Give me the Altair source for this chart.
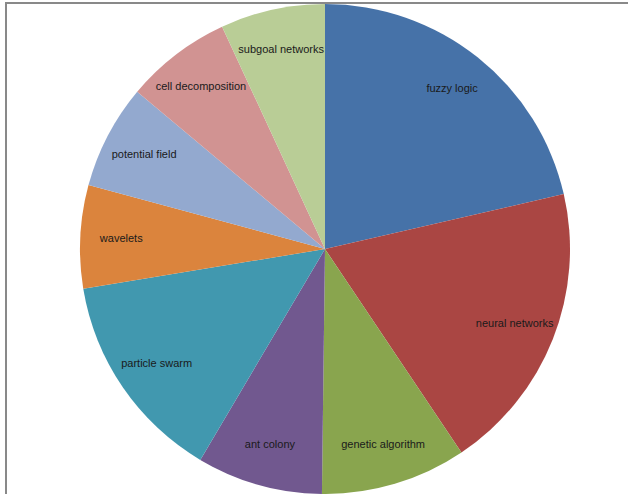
import altair as alt
import pandas as pd

categories = ["fuzzy logic", "neural networks", "genetic algorithm", "ant colony",
              "particle swarm", "wavelets", "potential field", "cell decomposition",
              "subgoal networks"]
values = [21.4, 19.2, 9.6, 8.3, 13.9, 6.8, 6.9, 7.0, 6.9]
colors = ["#4672A8", "#AA4643", "#89A54E", "#71588F", "#4198AF", "#DB843D",
          "#93A9CF", "#D19392", "#B9CD96"]

df = pd.DataFrame({"category": categories, "value": values,
                   "idx": list(range(len(categories)))})

CX, CY, R = 325, 249, 245

base = alt.Chart(df).encode(
    theta=alt.Theta("value:Q", stack=True),
    order=alt.Order("idx:Q", sort="ascending"),
)

pie = base.mark_arc(outerRadius=R).encode(
    x=alt.value(CX), y=alt.value(CY),
    color=alt.Color("category:N", scale=alt.Scale(domain=categories, range=colors),
                    legend=None),
)

labels = base.mark_text(radius=204, font="Liberation Sans", fontSize=11,
                        color="#1a1a1a").encode(
    x=alt.value(CX), y=alt.value(CY),
    text="category:N",
)

frame_df = pd.DataFrame({"a": [0]})
top_rule = alt.Chart(frame_df).mark_rule(color="#898989", strokeWidth=2).encode(
    x=alt.value(6), x2=alt.value(628), y=alt.value(3))
left_rule = alt.Chart(frame_df).mark_rule(color="#898989", strokeWidth=2).encode(
    x=alt.value(6), y=alt.value(2), y2=alt.value(494))

chart = alt.layer(pie, labels, top_rule, left_rule).properties(
    width=628, height=494, padding=0,
    autosize=alt.AutoSizeParams(type="none"),
).configure_view(stroke=None)

chart.save("out.html", embed_options={"renderer": "svg", "actions": False})
